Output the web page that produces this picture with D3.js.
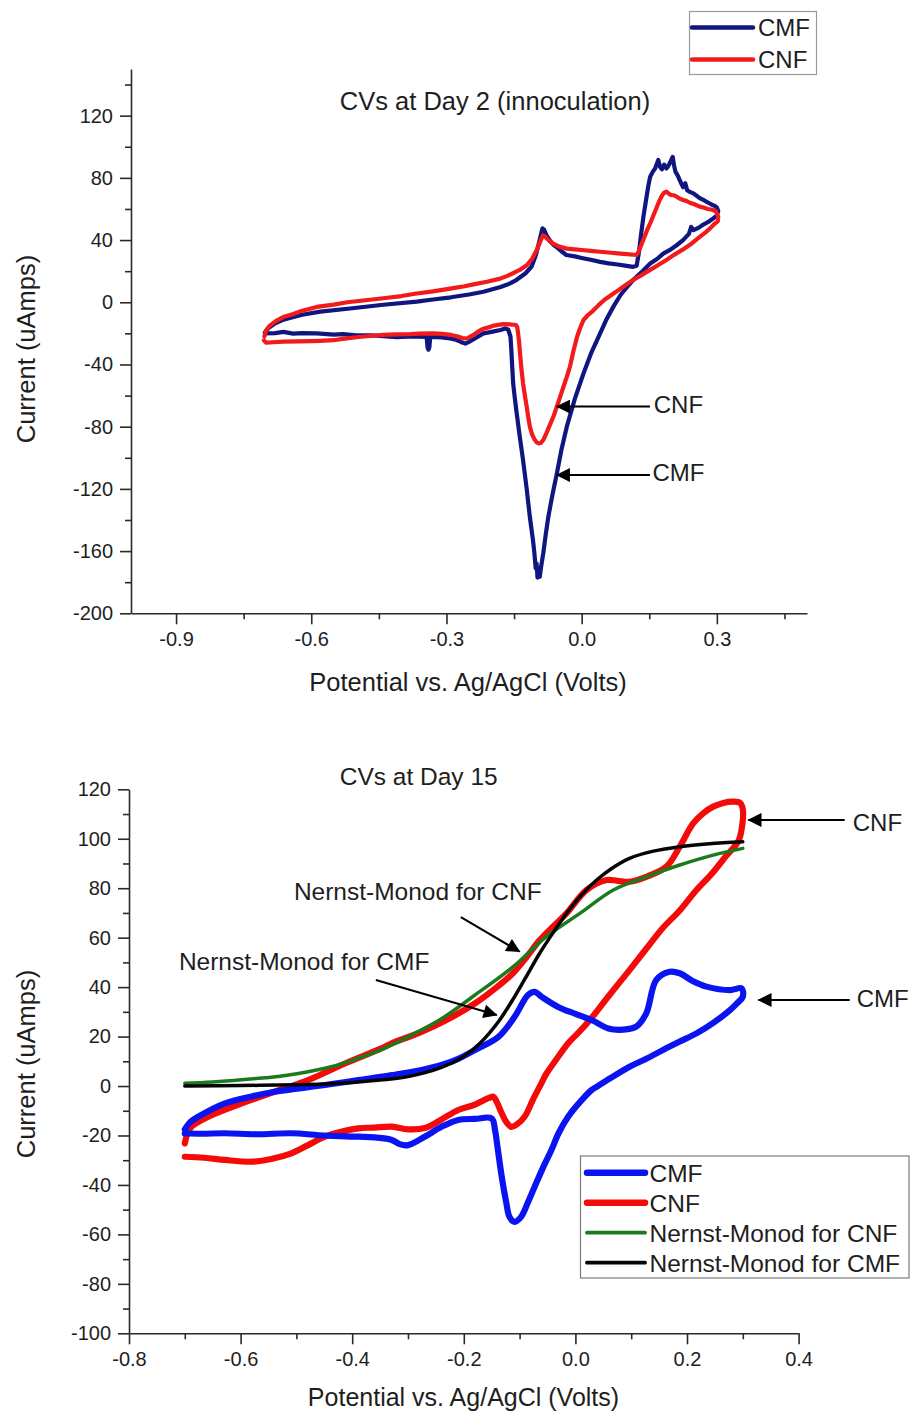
<!DOCTYPE html>
<html>
<head>
<meta charset="utf-8">
<script src="https://cdn.jsdelivr.net/npm/d3@7"></script>
<style>
  body { margin: 0; background: #fff; }
  svg { display: block; }
</style>
</head>
<body>
<svg id="fig" width="912" height="1411"></svg>
<script>
// ---------- Day 2 cyclic voltammograms: [potential (V), current (uA)] ----------
const day2CMF = [
  [-0.703,-19.5],[-0.695,-16.5],[-0.68,-13.5],[-0.66,-11],[-0.62,-8],[-0.58,-6],[-0.514,-4],[-0.44,-1.6],
  [-0.366,0.4],[-0.33,1.8],[-0.29,3.2],[-0.25,5],[-0.218,6.8],[-0.18,9.8],[-0.16,12],[-0.145,14.3],
  [-0.125,18.5],[-0.111,23],[-0.102,30],[-0.095,38],[-0.09,44],[-0.087,47.5],[-0.083,46.5],[-0.078,43],
  [-0.07,39.5],[-0.063,37],[-0.056,35.6],[-0.045,32.8],[-0.034,30.4],[-0.015,29.5],[0.0,28.5],[0.02,27.3],
  [0.041,26],[0.06,25],[0.08,24.3],[0.1,23.4],[0.114,22.8],[0.122,23.5],
  [0.127,32],[0.132,44],[0.137,55],[0.143,66],[0.148,75],[0.152,80.7],[0.158,84],[0.163,86],[0.166,88.5],
  [0.17,91.5],[0.174,87],[0.178,85.5],[0.183,88.5],[0.188,86],[0.193,88],[0.198,91],[0.202,93.5],[0.205,88],
  [0.208,84],[0.214,81],[0.22,77],[0.225,74],[0.23,76.5],[0.234,72],[0.24,71],[0.248,70],[0.255,68.5],
  [0.262,67],[0.27,65.8],[0.278,64.5],[0.287,63],[0.295,62],[0.3,61],[0.303,58.5],
  [0.299,55.5],[0.29,53.5],[0.28,51.5],[0.27,50],[0.26,48],[0.248,46.4],[0.243,48.5],[0.238,44],[0.225,40],
  [0.21,36.5],[0.195,33.5],[0.181,31.3],[0.168,28],[0.152,24.9],[0.135,20],[0.114,14.3],[0.1,9.5],[0.087,5],
  [0.072,-2],[0.055,-11],[0.041,-20],[0.022,-32],[0.004,-45.8],[-0.015,-62],[-0.033,-80],[-0.045,-95],
  [-0.055,-110],[-0.065,-124],[-0.074,-138],[-0.08,-150],[-0.085,-161],[-0.09,-170],[-0.093,-176.5],
  [-0.096,-172],[-0.098,-177],[-0.1,-168],[-0.102,-171],[-0.105,-161],[-0.108,-153],[-0.115,-138],
  [-0.122,-120],[-0.13,-101.6],[-0.138,-85],[-0.145,-69.5],[-0.149,-60],[-0.152,-52.3],[-0.154,-42],
  [-0.156,-31],[-0.158,-22],[-0.163,-17.5],[-0.17,-16.8],[-0.18,-17.8],[-0.2,-19],[-0.218,-20],[-0.235,-23],
  [-0.25,-25.5],[-0.258,-26.6],[-0.268,-25.5],[-0.28,-24],[-0.292,-23.3],[-0.31,-22.6],[-0.336,-22.2],
  [-0.338,-29],[-0.34,-30.5],[-0.342,-29],[-0.344,-22.2],[-0.38,-22],[-0.41,-22.5],[-0.44,-21.8],
  [-0.47,-21.2],[-0.5,-21.3],[-0.53,-20.5],[-0.55,-20.8],[-0.588,-20],[-0.62,-19.8],[-0.64,-20.2],
  [-0.662,-19],[-0.68,-19.8],[-0.703,-20]
];

const day2CNF = [
  [-0.704,-22],[-0.70,-18],[-0.692,-15],[-0.678,-12],[-0.662,-9.5],[-0.64,-7.5],[-0.62,-5.5],[-0.588,-3],
  [-0.55,-1.5],[-0.52,0],[-0.48,1.3],[-0.44,2.6],[-0.4,4],[-0.37,5.5],[-0.33,7],[-0.292,8.8],[-0.26,10.3],
  [-0.24,11.5],[-0.21,13.2],[-0.181,15.2],[-0.165,17],[-0.15,19],[-0.135,21.2],[-0.122,23.8],[-0.11,28],
  [-0.1,33.4],[-0.094,37.5],[-0.09,40.5],[-0.086,43],[-0.082,42.5],[-0.077,41],[-0.07,39],[-0.063,37.7],
  [-0.05,35.8],[-0.033,34.5],[-0.015,34],[0.0,33.6],[0.02,33],[0.041,32.5],[0.06,32],[0.08,31.5],[0.1,31],
  [0.122,30.4],
  [0.127,33],[0.133,37.5],[0.14,42.5],[0.146,47],[0.152,50.7],[0.158,55],[0.165,60],[0.172,65],[0.178,68.5],
  [0.183,70.5],[0.188,71.2],[0.193,70],[0.198,69],[0.205,68.8],[0.21,68],[0.218,66.5],[0.225,65.8],
  [0.232,65.2],[0.24,64],[0.25,63],[0.262,61.5],[0.272,60.8],[0.28,60],[0.29,59.5],[0.298,58.5],[0.303,55],
  [0.302,52],[0.295,50.5],[0.285,47.5],[0.275,45],[0.262,42],[0.245,38],[0.225,34],[0.205,30.5],[0.188,27.2],
  [0.17,24],[0.15,20.5],[0.132,17.3],[0.114,14.3],[0.097,11],[0.08,7.5],[0.065,4.5],[0.05,1.5],[0.037,-2],
  [0.025,-5.5],[0.013,-8.5],[0.004,-11.4],[-0.004,-17],[-0.01,-22],[-0.018,-31],[-0.026,-41.4],[-0.033,-48],
  [-0.04,-54],[-0.048,-61],[-0.055,-67],[-0.062,-73],[-0.07,-78.5],[-0.078,-84],[-0.085,-88.5],[-0.091,-90.5],
  [-0.096,-90.7],[-0.1,-90],[-0.105,-88],[-0.11,-85],[-0.115,-80],[-0.119,-73],[-0.122,-67],[-0.126,-60],
  [-0.13,-52.3],[-0.134,-42],[-0.137,-32],[-0.139,-25],[-0.141,-20],[-0.143,-16],[-0.146,-14.6],[-0.16,-14.2],
  [-0.174,-14.1],[-0.185,-14.5],[-0.195,-15],[-0.205,-16],[-0.218,-17],[-0.228,-18.5],[-0.24,-21],
  [-0.255,-23.3],[-0.265,-23],[-0.275,-22],[-0.29,-21],[-0.31,-20.3],[-0.329,-20],[-0.36,-20.2],[-0.38,-20.5],
  [-0.41,-20.7],[-0.44,-21],[-0.47,-21.7],[-0.5,-22.5],[-0.53,-23.5],[-0.551,-24.4],[-0.58,-24.8],[-0.6,-25],
  [-0.63,-25.2],[-0.662,-25.3],[-0.685,-25.7],[-0.70,-26],[-0.705,-24.5]
];

// ---------- Day 15 cyclic voltammograms and Nernst-Monod fits ----------
const day15CMF = [
  [-0.70,-17.5],[-0.69,-14.5],[-0.676,-12.4],[-0.628,-7],[-0.58,-4.2],[-0.539,-2.3],[-0.449,0.4],[-0.389,2.4],
  [-0.329,4.4],[-0.28,6.3],[-0.24,8.5],[-0.21,11],[-0.18,14.6],[-0.138,19.9],[-0.109,28],[-0.085,36.8],
  [-0.073,38.1],[-0.06,36],[-0.031,32],[0.0,29.2],[0.029,26.7],[0.059,23.3],[0.085,22.8],[0.109,24],
  [0.127,29.4],[0.145,42.9],[0.169,46.2],[0.187,45.6],[0.21,42.5],[0.235,40.2],[0.277,38.8],[0.298,39.5],
  [0.30,36.1],[0.29,33.5],[0.277,30.7],[0.25,26],[0.217,21.3],[0.187,18],[0.157,14.6],[0.127,11],[0.097,7.8],
  [0.065,3.5],[0.038,-0.3],[0.029,-1.6],[0.01,-6],[-0.013,-12.4],[-0.03,-19],[-0.043,-25.9],[-0.058,-33],
  [-0.073,-40.7],[-0.085,-47],[-0.097,-52.8],[-0.109,-54.9],[-0.118,-53],[-0.124,-47],[-0.132,-36.7],
  [-0.14,-24],[-0.144,-17.8],[-0.15,-13.1],[-0.18,-13.3],[-0.21,-13.7],[-0.24,-16.5],[-0.27,-20.5],
  [-0.3,-23.9],[-0.315,-23.5],[-0.329,-21.8],[-0.36,-20.8],[-0.389,-20.5],[-0.45,-20],[-0.509,-19.1],
  [-0.57,-19.5],[-0.628,-19.1],[-0.67,-19.3],[-0.70,-19.1]
];

const day15CNF = [
  [-0.70,-23.2],[-0.695,-19],[-0.688,-16.4],[-0.658,-12.4],[-0.598,-7],[-0.539,-2.3],[-0.479,2.4],
  [-0.419,8.5],[-0.35,15],[-0.329,17.3],[-0.28,21.5],[-0.231,26.7],[-0.18,33.4],[-0.138,40.5],[-0.112,45.6],
  [-0.088,52],[-0.064,59],[-0.04,64.5],[-0.016,69.8],[0.02,79.3],[0.056,83.3],[0.075,83],[0.097,82.6],
  [0.127,84.6],[0.163,88.7],[0.187,96.8],[0.211,106.2],[0.23,110.5],[0.247,113],[0.265,114.5],[0.283,115],
  [0.295,114.5],[0.30,112],
  [0.298,104],[0.292,99],[0.27,93],[0.245,86],[0.217,79.3],[0.187,71],[0.157,64],[0.127,55.5],[0.097,46.9],
  [0.06,36.5],[0.026,26.7],[0.005,21.5],[-0.013,17.3],[-0.035,10.5],[-0.052,5],[-0.061,1.1],[-0.075,-5],
  [-0.091,-12.4],[-0.105,-15.5],[-0.115,-16.5],[-0.124,-14.5],[-0.132,-11],[-0.142,-6],[-0.147,-4.3],
  [-0.155,-4.8],[-0.18,-7.5],[-0.21,-9.7],[-0.24,-13.5],[-0.27,-17],[-0.3,-17.5],[-0.329,-16.4],
  [-0.36,-16.8],[-0.389,-17.1],[-0.42,-18.5],[-0.449,-20.5],[-0.48,-24],[-0.509,-27.2],[-0.545,-29.5],
  [-0.58,-30.6],[-0.628,-29.9],[-0.665,-29],[-0.70,-28.6]
];

const nernstMonodCNF = [
  [-0.70,1.1],[-0.65,1.6],[-0.568,3.1],[-0.52,4.3],[-0.479,5.8],[-0.43,8.2],[-0.389,11.2],[-0.35,14.5],
  [-0.30,19.9],[-0.24,27.2],[-0.18,36.8],[-0.112,48.2],[-0.052,60.4],[0.008,69.8],[0.068,79.3],[0.127,84.6],
  [0.187,89.4],[0.247,93.4],[0.30,96.1]
];

const nernstMonodCMF = [
  [-0.70,0.0],[-0.6,0.2],[-0.5,0.5],[-0.449,0.8],[-0.4,1.4],[-0.35,2.4],[-0.3,3.8],[-0.24,7.5],[-0.2,12],
  [-0.171,17.3],[-0.138,26],[-0.112,35],[-0.09,43.5],[-0.064,53.7],[-0.04,62],[-0.016,69.8],[0.01,77],
  [0.038,83.3],[0.065,88],[0.097,92.1],[0.14,95],[0.187,96.8],[0.24,98],[0.30,98.8]
];

// ---------- tick values ----------
const day2XTicks = [-0.9, -0.6, -0.3, 0.0, 0.3];
const day2XMinor = [-0.75, -0.45, -0.15, 0.15, 0.45];
const day2YTicks = [-200, -160, -120, -80, -40, 0, 40, 80, 120];
const day2YMinor = [-180, -140, -100, -60, -20, 20, 60, 100, 140];
const day15XTicks = [-0.8, -0.6, -0.4, -0.2, 0.0, 0.2, 0.4];
const day15XMinor = [-0.7, -0.5, -0.3, -0.1, 0.1, 0.3];
const day15YTicks = [-100, -80, -60, -40, -20, 0, 20, 40, 60, 80, 100, 120];
const day15YMinor = [-90, -70, -50, -30, -10, 10, 30, 50, 70, 90, 110];

// ---------- labels ----------
const day2Legend = ["CMF", "CNF"];
const day15Legend = ["CMF", "CNF", "Nernst-Monod for CNF", "Nernst-Monod for CMF"];

const FONT = '"Liberation Sans", Arial, Helvetica, sans-serif';
const INK = "#1e1e1e";
const C = { navy: "#10167f", red2: "#f21a1a", blue: "#0a14f0", red: "#f50a0a", green: "#1b7a1b", black: "#050505" };

const svg = d3.select("#fig").attr("font-family", FONT);

// arrowhead marker
svg.append("defs").append("marker")
  .attr("id", "head").attr("viewBox", "0 0 10 10")
  .attr("refX", 9.5).attr("refY", 5)
  .attr("markerWidth", 8).attr("markerHeight", 7)
  .attr("markerUnits", "strokeWidth")
  .attr("orient", "auto")
  .append("path").attr("d", "M0,0 L10,5 L0,10 z").attr("fill", "#000");

function drawAxes(x, y, xMaj, xMin, yMaj, yMin, xFmt) {
  const g = svg.append("g");
  const gx = g.append("g").attr("transform", `translate(0,${y.range()[0]})`);
  gx.call(d3.axisBottom(x).tickValues(xMaj).tickSize(11).tickSizeOuter(0).tickPadding(8).tickFormat(xFmt));
  gx.append("g").call(d3.axisBottom(x).tickValues(xMin).tickSize(6).tickFormat(""))
    .select(".domain").remove();
  const gy = g.append("g").attr("transform", `translate(${x.range()[0]},0)`);
  gy.call(d3.axisLeft(y).tickValues(yMaj).tickSize(11).tickSizeOuter(0).tickPadding(7).tickFormat(d => String(d)));
  gy.append("g").call(d3.axisLeft(y).tickValues(yMin).tickSize(6).tickFormat(""))
    .select(".domain").remove();
  g.selectAll("g").attr("font-family", null).attr("font-size", null);
  g.selectAll(".domain, .tick line").attr("stroke", "#2a2a2a").attr("stroke-width", 1.6);
  g.selectAll(".tick text").attr("font-size", 20).attr("fill", INK);
  return g;
}

function drawCurve(data, x, y, color, width, curve) {
  svg.append("path").datum(data)
    .attr("fill", "none").attr("stroke", color).attr("stroke-width", width)
    .attr("stroke-linejoin", "round").attr("stroke-linecap", "round")
    .attr("d", d3.line().x(d => x(d[0])).y(d => y(d[1])).curve(curve));
}

function label(txt, px, py, size, anchor, rotate) {
  const t = svg.append("text").text(txt)
    .attr("font-size", size).attr("fill", INK)
    .attr("text-anchor", anchor || "start").attr("dy", "0.36em");
  if (rotate) t.attr("transform", `translate(${px},${py}) rotate(-90)`);
  else t.attr("x", px).attr("y", py);
  return t;
}

function arrow(x, y, from, to) {
  svg.append("line")
    .attr("x1", x(from[0])).attr("y1", y(from[1]))
    .attr("x2", x(to[0])).attr("y2", y(to[1]))
    .attr("stroke", "#000").attr("stroke-width", 2)
    .attr("marker-end", "url(#head)");
}

const fmt1 = d => d.toFixed(1);

// =================== Day 2 panel ===================
const x1 = d3.scaleLinear().domain([-1.0, 0.5]).range([131, 807]);
const y1 = d3.scaleLinear().domain([-200, 150]).range([613.3, 69]);

drawAxes(x1, y1, day2XTicks, day2XMinor, day2YTicks, day2YMinor, fmt1);
drawCurve(day2CMF, x1, y1, C.navy, 4.2, d3.curveLinear);
drawCurve(day2CNF, x1, y1, C.red2, 4.2, d3.curveLinear);

label("CVs at Day 2 (innoculation)", 495, 101, 25.5, "middle");
label("Potential vs. Ag/AgCl (Volts)", 468, 682, 25.5, "middle");
label("Current (uAmps)", 26, 349, 25.5, "middle", true);

arrow(x1, y1, [0.1515, -67.1], [-0.0555, -67.1]);
label("CNF", x1(0.160), y1(-65.5), 24, "start");
arrow(x1, y1, [0.1515, -111.1], [-0.0555, -111.1]);
label("CMF", x1(0.157), y1(-109.5), 24, "start");

// legend (Day 2)
const lg1 = svg.append("g");
lg1.append("rect").attr("x", 689.5).attr("y", 11.5).attr("width", 127).attr("height", 63)
  .attr("fill", "#fff").attr("stroke", "#9a9a9a").attr("stroke-width", 1.2);
[C.navy, C.red2].forEach((col, i) => {
  const yy = 27.5 + i * 32;
  lg1.append("line").attr("x1", 692).attr("x2", 753).attr("y1", yy).attr("y2", yy)
    .attr("stroke", col).attr("stroke-width", 4.5).attr("stroke-linecap", "round");
  lg1.append("text").text(day2Legend[i]).attr("x", 758).attr("y", yy).attr("dy", "0.36em")
    .attr("font-size", 24).attr("fill", INK);
});

// =================== Day 15 panel ===================
const x2 = d3.scaleLinear().domain([-0.8, 0.4]).range([129, 798.6]);
const y2 = d3.scaleLinear().domain([-100, 120]).range([1333.3, 789.3]);

drawAxes(x2, y2, day15XTicks, day15XMinor, day15YTicks, day15YMinor, fmt1);
drawCurve(day15CNF, x2, y2, C.red, 6.2, d3.curveCatmullRom.alpha(0.5));
drawCurve(day15CMF, x2, y2, C.blue, 6.2, d3.curveCatmullRom.alpha(0.5));
drawCurve(nernstMonodCNF, x2, y2, C.green, 3.5, d3.curveCatmullRom.alpha(0.5));
drawCurve(nernstMonodCMF, x2, y2, C.black, 3.5, d3.curveCatmullRom.alpha(0.5));

label("CVs at Day 15", 418.7, 776, 24.5, "middle");
label("Potential vs. Ag/AgCl (Volts)", 463.5, 1396.5, 25, "middle");
label("Current (uAmps)", 26, 1064, 25.5, "middle", true);

label("Nernst-Monod for CNF", x2(-0.5045), y2(78.9), 24.5, "start");
arrow(x2, y2, [-0.2053, 68.3], [-0.0996, 54.3]);
label("Nernst-Monod for CMF", x2(-0.7106), y2(50.5), 24.5, "start");
arrow(x2, y2, [-0.3576, 42.9], [-0.1408, 28.7]);

arrow(x2, y2, [0.4826, 107.6], [0.3097, 107.6]);
label("CNF", x2(0.497), y2(106.8), 24, "start");
arrow(x2, y2, [0.4916, 34.8], [0.3277, 34.8]);
label("CMF", x2(0.504), y2(35.6), 24, "start");

// legend (Day 15)
const lg2 = svg.append("g");
lg2.append("rect").attr("x", 580.5).attr("y", 1156).attr("width", 328.5).attr("height", 122)
  .attr("fill", "#fff").attr("stroke", "#7a7a7a").attr("stroke-width", 1.2);
[[C.blue, 6.5], [C.red, 6.5], [C.green, 3.8], [C.black, 3.8]].forEach(([col, w], i) => {
  const yy = 1172.7 + i * 30;
  lg2.append("line").attr("x1", 587).attr("x2", 645).attr("y1", yy).attr("y2", yy)
    .attr("stroke", col).attr("stroke-width", w).attr("stroke-linecap", "round");
  lg2.append("text").text(day15Legend[i]).attr("x", 649.5).attr("y", yy).attr("dy", "0.36em")
    .attr("font-size", 24.5).attr("fill", INK);
});
</script>
</body>
</html>
